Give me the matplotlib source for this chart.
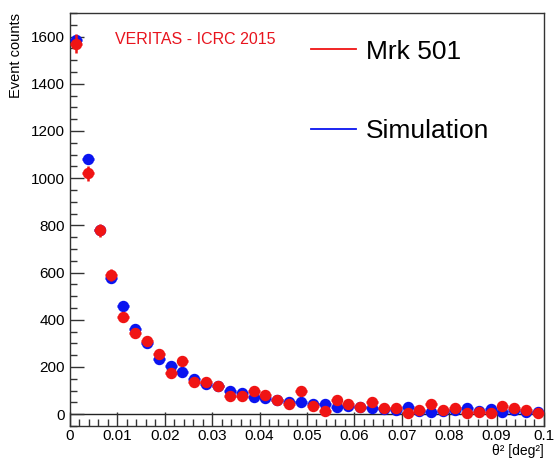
import numpy as np
import matplotlib.pyplot as plt
from matplotlib.lines import Line2D
from matplotlib.ticker import MultipleLocator

plt.rcParams['font.family'] = ['Liberation Sans', 'DejaVu Sans']

# theta^2 histogram, 40 bins of 0.0025 deg^2
bin_width = 0.0025
mrk501 = [1570, 1020, 780, 590, 410, 345, 308, 255, 175, 225,
          138, 135, 118, 75, 75, 98, 80, 62, 45, 99,
          34, 13, 62, 41, 30, 52, 24, 24, 5, 17,
          41, 17, 27, 3, 10, 3, 34, 24, 17, 6]
simulation = [1585, 1080, 780, 578, 460, 360, 302, 235, 205, 178,
              148, 128, 118, 100, 90, 74, 70, 62, 52, 51,
              45, 42, 31, 35, 31, 24, 20, 17, 31, 14,
              10, 15, 17, 24, 14, 20, 10, 17, 10, 10]

centers = (np.arange(len(mrk501)) + 0.5) * bin_width

fig = plt.figure(figsize=(5.55, 4.65), dpi=100)
ax = fig.add_axes([0.126, 0.084, 0.854, 0.888])

ax.axhline(0, color='#222222', lw=1.0, zorder=1)

ax.errorbar(centers, simulation, xerr=bin_width / 2, fmt='o', color='#0a14f0',
            ms=7.2, elinewidth=1.8, capsize=0, zorder=3)
ax.errorbar(centers, mrk501, xerr=bin_width / 2, yerr=np.sqrt(mrk501), fmt='o',
            color='#f01414', ms=7.2, elinewidth=1.8, capsize=0, zorder=4)

ax.set_xlim(0, 0.1)
ax.set_ylim(-50, 1700)
ax.xaxis.set_major_locator(MultipleLocator(0.01))
ax.xaxis.set_minor_locator(MultipleLocator(0.002))
ax.yaxis.set_major_locator(MultipleLocator(200))
ax.yaxis.set_minor_locator(MultipleLocator(50))
ax.set_xticks(np.arange(0, 0.1001, 0.01))
ax.set_xticklabels(['0', '0.01', '0.02', '0.03', '0.04', '0.05',
                    '0.06', '0.07', '0.08', '0.09', '0.1'])
ax.tick_params(which='both', direction='in', top=False, right=False,
               labelsize=11, color='#333333')
ax.tick_params(which='major', length=10, width=1)
ax.tick_params(which='minor', length=5, width=1)
ax.tick_params(axis='x', pad=2)
for s in ax.spines.values():
    s.set_color('#333333')
    s.set_linewidth(1.0)

ax.set_ylabel('Event counts', fontsize=10.5, ha='right')
ax.yaxis.set_label_coords(-0.099, 1.0)
ax.set_xlabel('θ² [deg²]', fontsize=10, ha='right', va='top')
ax.xaxis.set_label_coords(1.0, -0.043)

ax.text(0.095, 0.935, 'VERITAS - ICRC 2015', transform=ax.transAxes,
        color='#e8141e', fontsize=11.5, va='center', ha='left')

handles = [Line2D([], [], color='#f01414', lw=1.3),
           Line2D([], [], color='#0a14f0', lw=1.3)]
ax.legend(handles, ['Mrk 501', 'Simulation'], loc='upper left',
          bbox_to_anchor=(0.458, 0.993), frameon=False, fontsize=19,
          handlelength=1.7, handletextpad=0.4, labelspacing=2.1)

fig.savefig('out.png', dpi=100)
